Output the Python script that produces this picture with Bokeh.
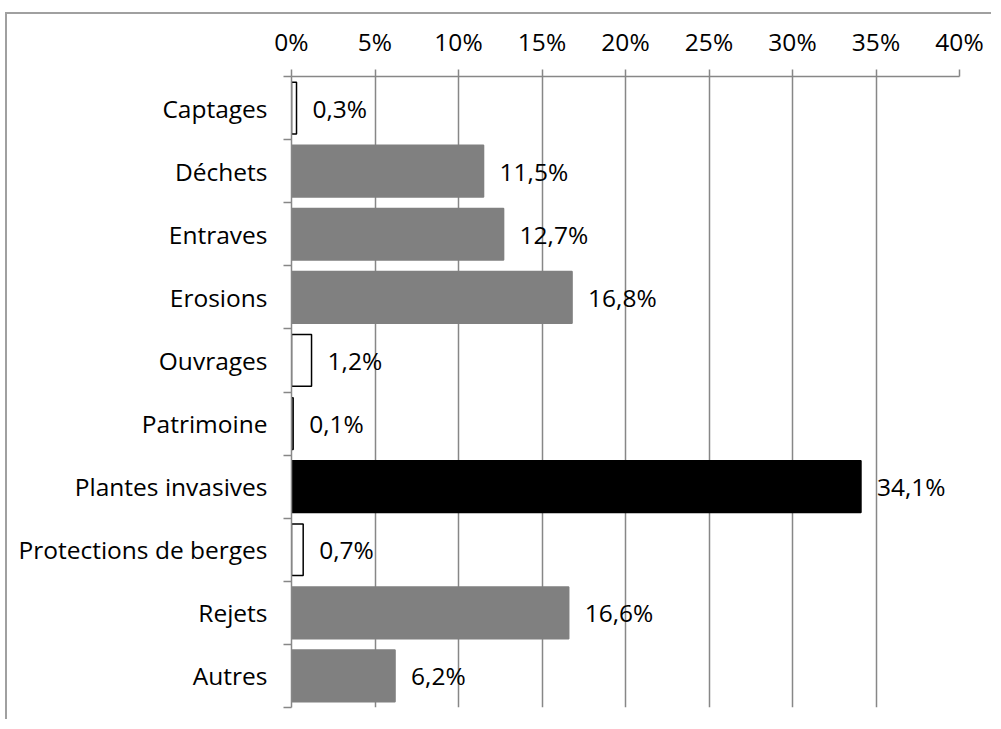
from bokeh.plotting import figure
from bokeh.models import Range1d, FixedTicker, CustomJSTickFormatter, PrintfTickFormatter, ColumnDataSource
from bokeh.core.properties import value
from bokeh.embed import file_html
from bokeh.resources import INLINE

categories = ["Captages", "Déchets", "Entraves", "Erosions", "Ouvrages", "Patrimoine",
              "Plantes invasives", "Protections de berges", "Rejets", "Autres"]
values = [0.3, 11.5, 12.7, 16.8, 1.2, 0.1, 34.1, 0.7, 16.6, 6.2]
fill_colors = ["#ffffff", "#808080", "#808080", "#808080", "#ffffff", "#ffffff",
               "#000000", "#ffffff", "#808080", "#808080"]
line_colors = ["#000000", "#808080", "#808080", "#808080", "#000000", "#000000",
               "#000000", "#000000", "#808080", "#808080"]
x_ticks = [0, 5, 10, 15, 20, 25, 30, 35, 40]

FONT = "Open Sans"
GRID = "#878787"
FS = "24.5px"

n = len(categories)
centers = [i + 0.5 for i in range(n)]
boundaries = list(range(n + 1))
labels = [f"{v:.1f}".replace(".", ",") + "%" for v in values]

src = ColumnDataSource(dict(y=centers, v=values, fill=fill_colors, line=line_colors, lab=labels))

p = figure(width=986, height=707, output_backend="svg", toolbar_location=None,
           x_range=Range1d(0, 40), y_range=Range1d(n, 0), x_axis_location="above",
           min_border_left=284, min_border_right=34, min_border_top=62, min_border_bottom=14)
p.outline_line_color = None
p.background_fill_color = "white"
p.border_fill_color = "white"
p.styles = {"margin-left": "5px", "margin-top": "12px",
            "border-left": "2px solid #a0a0a0", "border-top": "2px solid #a0a0a0"}

p.hbar(y="y", left=0, right="v", height=0.82, fill_color="fill", line_color="line",
       line_width=1.5, source=src)
p.text(x="v", y="y", text="lab", x_offset=16, text_align="left", text_baseline="middle",
       text_font=value(FONT), text_font_size=FS, text_color="black", source=src)

xa = p.xaxis[0]
xa.ticker = FixedTicker(ticks=x_ticks)
xa.formatter = PrintfTickFormatter(format="%d%%")
xa.major_tick_out = 7
xa.major_tick_in = 0
xa.major_tick_line_color = GRID
xa.major_tick_line_width = 1.5
xa.axis_line_color = GRID
xa.axis_line_width = 1.5
xa.minor_tick_line_color = None
xa.major_label_text_font = FONT
xa.major_label_text_font_size = FS
xa.major_label_text_color = "black"
xa.major_label_standoff = 12

ya = p.yaxis[0]
ya.ticker = FixedTicker(ticks=centers, minor_ticks=boundaries)
ya.formatter = CustomJSTickFormatter(args=dict(labels=categories),
                                     code="return labels[Math.floor(tick)];")
ya.major_tick_line_color = None
ya.major_tick_out = 0
ya.major_tick_in = 0
ya.minor_tick_out = 8
ya.minor_tick_in = 0
ya.minor_tick_line_color = GRID
ya.minor_tick_line_width = 1.5
ya.axis_line_color = GRID
ya.axis_line_width = 1.5
ya.major_label_text_font = FONT
ya.major_label_text_font_size = FS
ya.major_label_text_color = "black"
ya.major_label_standoff = 16

p.xgrid.grid_line_color = GRID
p.xgrid.grid_line_width = 1.5
p.ygrid.grid_line_color = None

open("out.html", "w").write(file_html(p, INLINE))
